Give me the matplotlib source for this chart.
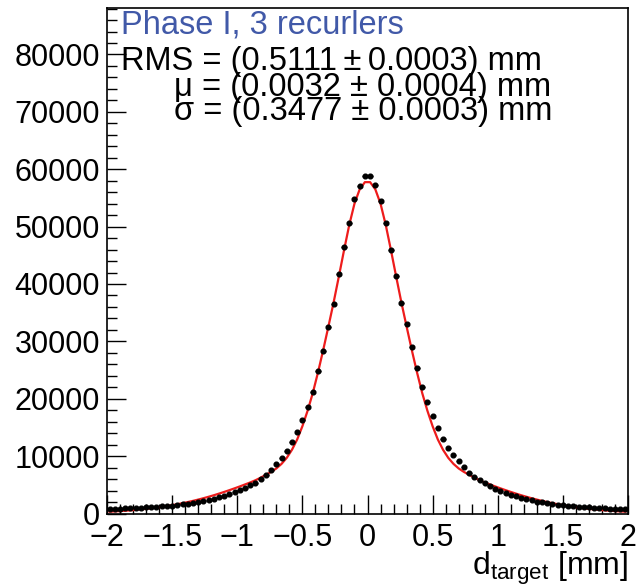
import numpy as np
import matplotlib.pyplot as plt
from matplotlib.ticker import MultipleLocator

plt.rcParams['font.family'] = ['Liberation Sans', 'DejaVu Sans']
plt.rcParams['mathtext.fontset'] = 'custom'
plt.rcParams['mathtext.rm'] = 'Liberation Sans'
plt.rcParams['mathtext.it'] = 'Liberation Sans:italic'

# histogram: 100 bins of 0.04 mm between -2 and 2
bin_centers = np.linspace(-1.98, 1.98, 100)

counts_left = [785, 846, 846, 896, 956, 1017, 1017, 1077, 1127, 1188,
               1248, 1308, 1359, 1480, 1600, 1711, 1882, 2003, 2174, 2355,
               2576, 2818, 3099, 3341, 3693, 4095, 4498, 4910, 5373, 5957,
               6711, 7526, 8562, 9608, 10886, 12506, 14246, 16339, 18492, 21229,
               24881, 28251, 32547, 36551, 41662, 46370, 50606, 54791, 57105, 58845]
counts_right = [58845, 57225, 54488, 50680, 46000, 41430, 36720, 33050, 29000, 25402,
                22033, 19427, 17043, 14950, 12978, 11409, 10141, 9196, 8049, 7113,
                6308, 5785, 5373, 4789, 4326, 3864, 3522, 3220, 2988, 2697,
                2526, 2355, 2063, 1942, 1832, 1650, 1540, 1480, 1308, 1248,
                1188, 1127, 1077, 1017, 956, 896, 846, 846, 785, 725]
counts = np.array(counts_left + counts_right)

# fitted curve read at the same bin centres (|x| = 0.02 ... 1.98)
fit_half = [57750, 56500, 54000, 50300, 45900, 41300, 36800, 32600, 28500, 24600,
            21000, 17900, 15200, 12900, 11100, 9700, 8650, 7850, 7250, 6750,
            6250, 5800, 5415, 5065, 4720, 4390, 4070, 3760, 3465, 3180,
            2915, 2660, 2425, 2200, 1995, 1800, 1620, 1455, 1300, 1160,
            1033, 916, 810, 715, 629, 551, 482, 420, 365, 317]
fit_values = np.array(fit_half[::-1] + fit_half)

xticks = [-2, -1.5, -1, -0.5, 0, 0.5, 1, 1.5, 2]
xtick_labels = ['\u22122', '\u22121.5', '\u22121', '\u22120.5', '0', '0.5', '1', '1.5', '2']
yticks = [0, 10000, 20000, 30000, 40000, 50000, 60000, 70000, 80000]

W, H = 637, 588
fig = plt.figure(figsize=(W / 100, H / 100), dpi=100)
ax = fig.add_axes([107 / W, 1 - 513.5 / H, (628 - 107) / W, (513.5 - 8) / H])

ax.plot(bin_centers, fit_values, color='#ee1c1c', lw=1.6, zorder=2)
ax.errorbar(bin_centers, counts, xerr=0.02, yerr=np.sqrt(counts), fmt='o',
            ms=3.4, color='black', elinewidth=1, capsize=0, zorder=3)

ax.set_xlim(-2, 2)
ax.set_ylim(0, 88100)
ax.set_xticks(xticks)
ax.set_xticklabels(xtick_labels)
ax.set_yticks(yticks)
ax.set_yticklabels([str(v) for v in yticks])
ax.xaxis.set_minor_locator(MultipleLocator(0.1))
ax.yaxis.set_minor_locator(MultipleLocator(2000))
ax.tick_params(which='both', direction='in', top=False, right=False,
               labelsize=22, width=1)
ax.tick_params(which='major', length=14)
ax.tick_params(which='minor', length=7)
ax.tick_params(axis='x', pad=7)
ax.tick_params(axis='y', pad=5)
for s in ax.spines.values():
    s.set_linewidth(1.2)

def ftext(x, y, s, size=23.5, **kw):
    fig.text(x / W, 1 - y / H, s, fontsize=size, va='baseline', **kw)

ftext(121, 33, 'Phase I, 3 recurlers', color='#4159a8')
ftext(121, 70, 'RMS = (0.5111\u2009\u00b1\u20090.0003) mm')
ftext(174, 96, '\u03bc = (0.0032 \u00b1 0.0004) mm')
ftext(174, 120, '\u03c3 = (0.3477 \u00b1 0.0003) mm')
ftext(628, 575, r'd$_{\mathrm{target}}$ [mm]', size=23, ha='right')

fig.savefig('out.png', dpi=100)
